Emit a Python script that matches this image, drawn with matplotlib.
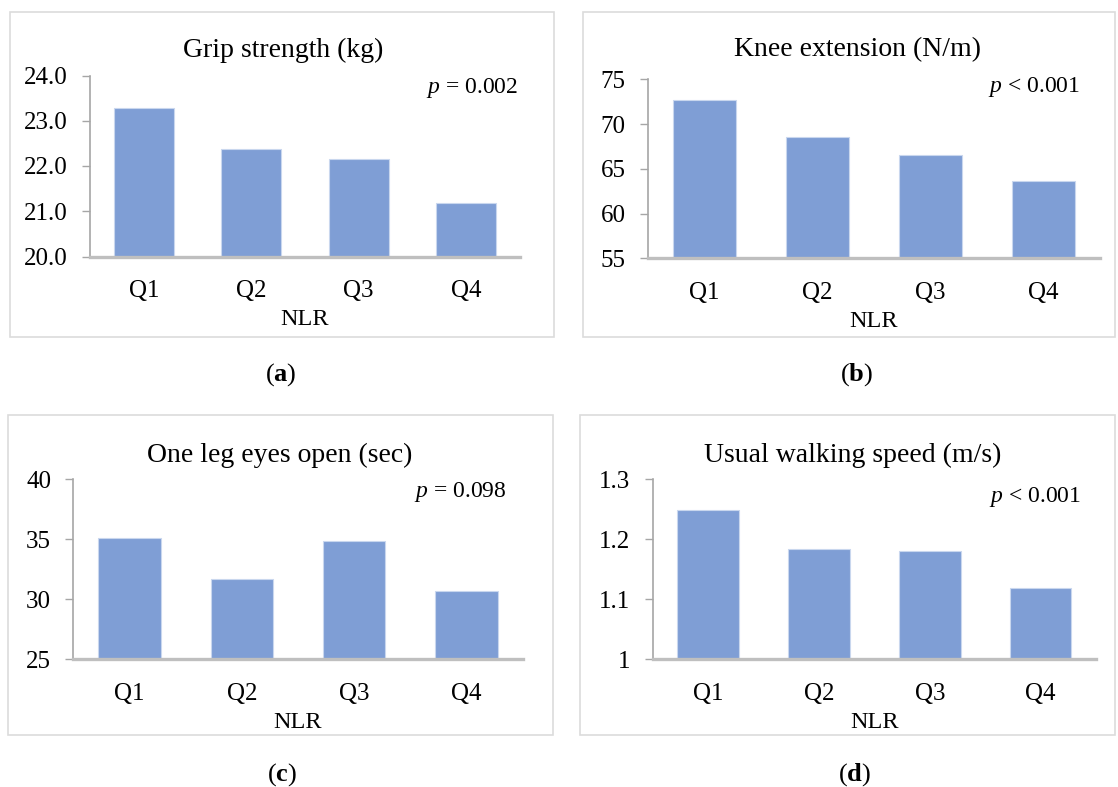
import matplotlib
matplotlib.use("Agg")
import matplotlib.pyplot as plt
from matplotlib.patches import Rectangle
from matplotlib.ticker import FixedLocator, FixedFormatter

# ---- data ----
categories = ["Q1", "Q2", "Q3", "Q4"]
grip_strength = [23.28, 22.37, 22.15, 21.19]
knee_extension = [72.7, 68.6, 66.5, 63.6]
one_leg = [35.1, 31.7, 34.9, 30.7]
walking_speed = [1.248, 1.183, 1.181, 1.118]

titles = ["Grip strength (kg)", "Knee extension (N/m)",
          "One leg eyes open (sec)", "Usual walking speed (m/s)"]
p_texts = ["= 0.002", "< 0.001", "= 0.098", "< 0.001"]
yticks_a = [20.0, 21.0, 22.0, 23.0, 24.0]
yticks_b = [55, 60, 65, 70, 75]
yticks_c = [25, 30, 35, 40]
yticks_d = [1.0, 1.1, 1.2, 1.3]
ylabels_a = ["20.0", "21.0", "22.0", "23.0", "24.0"]
ylabels_b = ["55", "60", "65", "70", "75"]
ylabels_c = ["25", "30", "35", "40"]
ylabels_d = ["1", "1.1", "1.2", "1.3"]
captions = ["a", "b", "c", "d"]
xlabel = "NLR"

W, H = 1118, 787
plt.rcParams["font.family"] = ["Liberation Serif", "DejaVu Serif"]
plt.rcParams["mathtext.fontset"] = "custom"
plt.rcParams["mathtext.rm"] = "Liberation Serif"
plt.rcParams["mathtext.it"] = "Liberation Serif:italic"
plt.rcParams["mathtext.bf"] = "Liberation Serif:bold"

fig = plt.figure(figsize=(W / 100, H / 100), dpi=100)
fig.patch.set_facecolor("white")

BAR = "#7F9ED5"
EDGE = "#C9D7EE"
XAX = "#BFBFBF"
YAX = "#A6A6A6"
BOX = "#DCDCDC"


def fx(px):
    return px / W


def fy(py):
    return 1 - py / H


panels = [
    dict(vals=grip_strength, yt=yticks_a, yl=ylabels_a, ax=(90, 520, 75.5, 256.5),
         box=(10, 12, 554, 337), title=(283, 50), p=(518, 88), cap=(281, 375)),
    dict(vals=knee_extension, yt=yticks_b, yl=ylabels_b, ax=(648, 1100, 79.3, 258.3),
         box=(583, 12, 1115, 337), title=(857, 50), p=(1080, 87), cap=(857, 375)),
    dict(vals=one_leg, yt=yticks_c, yl=ylabels_c, ax=(73.3, 522.7, 479.3, 659.3),
         box=(8, 415, 553, 735), title=(280, 455), p=(507, 492), cap=(282, 775)),
    dict(vals=walking_speed, yt=yticks_d, yl=ylabels_d, ax=(652.7, 1096, 479.3, 659.3),
         box=(580, 415, 1115, 735), title=(853, 455), p=(1081, 497), cap=(855, 775)),
]

for i, pn in enumerate(panels):
    bx0, by0, bx1, by1 = pn["box"]
    fig.add_artist(Rectangle((fx(bx0), fy(by1)), fx(bx1 - bx0), (by1 - by0) / H,
                             transform=fig.transFigure, fill=False,
                             edgecolor=BOX, linewidth=1.2))
    x0, x1, y0, y1 = pn["ax"]
    ax = fig.add_axes([fx(x0), fy(y1), fx(x1 - x0), (y1 - y0) / H])
    ax.set_facecolor("none")
    xs = list(range(len(categories)))
    ax.bar(xs, pn["vals"], width=0.557, color=BAR, edgecolor=EDGE, linewidth=0.8,
           zorder=2)
    ax.set_xlim(-0.5, len(categories) - 0.5)
    ax.set_ylim(pn["yt"][0], pn["yt"][-1])
    ax.yaxis.set_major_locator(FixedLocator(pn["yt"]))
    ax.yaxis.set_major_formatter(FixedFormatter(pn["yl"]))
    ax.set_xticks(xs)
    ax.set_xticklabels(categories)
    for s in ["top", "right"]:
        ax.spines[s].set_visible(False)
    ax.spines["left"].set_color(YAX)
    ax.spines["left"].set_linewidth(1.2)
    ax.spines["bottom"].set_color(XAX)
    ax.spines["bottom"].set_linewidth(2.4)
    ax.spines["bottom"].set_zorder(3)
    ax.tick_params(axis="y", direction="out", length=6, width=1.0, color=YAX,
                   labelsize=18, pad=10, labelcolor="black")
    ax.tick_params(axis="x", length=0, labelsize=18, pad=17, labelcolor="black")

    fig.text(fx(pn["title"][0]), fy(pn["title"][1]), titles[i], fontsize=20,
             ha="center", va="center")
    fig.text(fx(pn["p"][0]), fy(pn["p"][1]), r"$\it{p}$ " + p_texts[i],
             fontsize=17, ha="right", va="center")
    fig.text(fx((x0 + x1) / 2), fy(pn["ax"][3] + 63), xlabel, fontsize=17.5,
             ha="center", va="center")
    fig.text(fx(pn["cap"][0]), fy(pn["cap"][1]),
             "(" + r"$\mathbf{" + captions[i] + "}$" + ")", fontsize=19,
             ha="center", va="center")

fig.savefig("out.png", dpi=100, facecolor="white")
